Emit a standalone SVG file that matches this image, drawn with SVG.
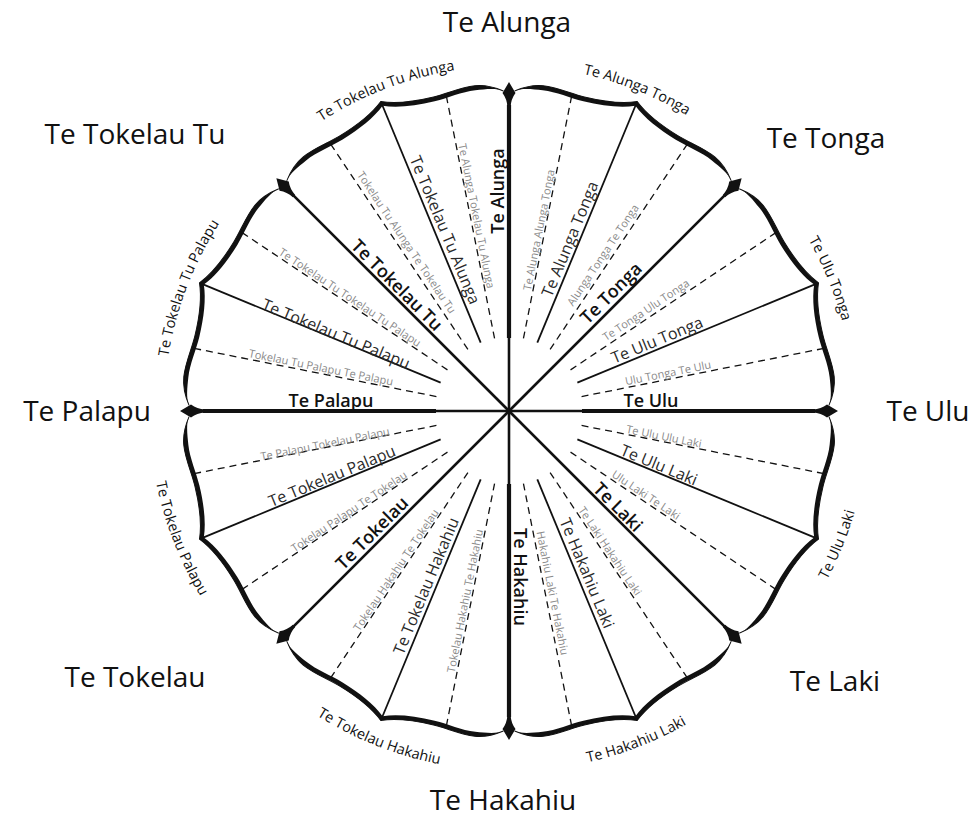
<svg xmlns="http://www.w3.org/2000/svg" xmlns:xlink="http://www.w3.org/1999/xlink" width="974" height="821" viewBox="0 0 974 821">
<style>
text{font-family:"Open Sans","Liberation Sans",sans-serif;text-anchor:middle;fill:#111}
.big{font-size:28px}
.main{font-size:18px;font-weight:600}
.sec{font-size:16px;fill:#2a2a2a}
.ter{font-size:11px;fill:#8a8a8a}
.arc{font-size:14.5px}
.sol{stroke:#111;stroke-width:1.8;fill:none}
.dash{stroke:#111;stroke-width:1.3;stroke-dasharray:7 5;fill:none}
.thin{stroke:#111;stroke-width:2.6;fill:none}
.thick{stroke:#111;stroke-width:4.2;fill:none}
.fill{fill:#111;stroke:none}
.edge{stroke:#111;stroke-width:1;fill:none}
</style>
<defs>
<path id="bh" class="fill" d="M0,-335 C12.8,-327.2 30.7,-322.1 50.5,-319 C64.3,-316.8 79.45,-317.5 92.87,-313.53 C102.46,-310.69 111.68,-303.44 117.28,-297.73 C111.68,-303.44 101.16,-306.3 91.57,-309.14 C78.34,-313.06 63.40,-312.36 49.79,-314.53 C30.27,-317.59 12.62,-322.62 0,-330.31 Z"/>
<path id="be" class="edge" d="M0,-335 C12.8,-327.2 30.7,-322.1 50.5,-319 C64.3,-316.8 79.45,-317.5 92.87,-313.53 C102.46,-310.69 111.68,-303.44 117.28,-297.73"/>
<g id="brace">
<use xlink:href="#bh"/><use xlink:href="#be"/>
<use xlink:href="#bh" transform="scale(-1,1)"/><use xlink:href="#be" transform="scale(-1,1)"/>
</g>
<g id="sec">
<use xlink:href="#brace" transform="rotate(22.5)"/>
<line class="sol" x1="0" y1="-74" x2="0" y2="-335" transform="rotate(22.5)"/>
<line class="dash" x1="0" y1="-74" x2="0" y2="-323" transform="rotate(11.25)"/>
<line class="dash" x1="0" y1="-74" x2="0" y2="-323" transform="rotate(33.75)"/>
</g>
<path id="dia" class="fill" d="M0,-329 L6.5,-318 Q2,-312 1.6,-304 L-1.6,-304 Q-2,-312 -6.5,-318 Z"/>
<g id="card">
<line class="thin" x1="0" y1="0" x2="0" y2="-75"/>
<line class="thick" x1="0" y1="-73" x2="0" y2="-306"/>
<use xlink:href="#dia"/>
</g>
<g id="diag">
<line class="thin" x1="0" y1="0" x2="0" y2="-306"/>
<use xlink:href="#dia"/>
</g>
<path id="arcU" d="M-172.5,-298.8 A345,345 0 0 1 172.5,-298.8"/>
<path id="arcL" d="M-180,311.8 A360,360 0 0 0 180,311.8"/>
</defs>

<g id="sector-alunga-tonga">
<use xlink:href="#sec" transform="translate(509 411) rotate(0)"/>
<text class="arc" transform="translate(509 411) rotate(21.7)"><textPath xlink:href="#arcU" startOffset="50%">Te Alunga Tonga</textPath></text>
<text class="sec" dy=".35em" transform="translate(570 239) rotate(-67.5)">Te Alunga Tonga</text>
<text class="ter" dy=".35em" transform="translate(539 230) rotate(-78.75)">Te Alunga Alunga Tonga</text>
<text class="ter" dy=".35em" transform="translate(603 255) rotate(-56.25)">Alunga Tonga Te Tonga</text>
</g>

<g id="sector-ulu-tonga">
<use xlink:href="#sec" transform="translate(509 411) rotate(45)"/>
<text class="arc" transform="translate(509 411) rotate(67.6)"><textPath xlink:href="#arcU" startOffset="50%">Te Ulu Tonga</textPath></text>
<text class="sec" dy=".35em" transform="translate(657 340) rotate(-22.5)">Te Ulu Tonga</text>
<text class="ter" dy=".35em" transform="translate(646 310) rotate(-33.75)">Te Tonga Ulu Tonga</text>
<text class="ter" dy=".35em" transform="translate(668 373) rotate(-11.25)">Ulu Tonga Te Ulu</text>
</g>

<g id="sector-ulu-laki">
<use xlink:href="#sec" transform="translate(509 411) rotate(90)"/>
<text class="arc" transform="translate(509 411) rotate(-67.9)"><textPath xlink:href="#arcL" startOffset="50%">Te Ulu Laki</textPath></text>
<text class="sec" dy=".35em" transform="translate(659 465) rotate(22.5)">Te Ulu Laki</text>
<text class="ter" dy=".35em" transform="translate(664 436.5) rotate(11.25)">Te Ulu Ulu Laki</text>
<text class="ter" dy=".35em" transform="translate(646 495) rotate(33.75)">Ulu Laki Te Laki</text>
</g>

<g id="sector-hakahiu-laki">
<use xlink:href="#sec" transform="translate(509 411) rotate(135)"/>
<text class="arc" transform="translate(509 411) rotate(-21.1)"><textPath xlink:href="#arcL" startOffset="50%">Te Hakahiu Laki</textPath></text>
<text class="sec" dy=".35em" transform="translate(587 573) rotate(67.5)">Te Hakahiu Laki</text>
<text class="ter" dy=".35em" transform="translate(610 551) rotate(56.25)">Te Laki Hakahiu Laki</text>
<text class="ter" dy=".35em" transform="translate(552.5 593) rotate(78.75)">Hakahiu Laki Te Hakahiu</text>
</g>

<g id="sector-tokelau-hakahiu">
<use xlink:href="#sec" transform="translate(509 411) rotate(180)"/>
<text class="arc" transform="translate(509 411) rotate(21.7)"><textPath xlink:href="#arcL" startOffset="50%">Te Tokelau Hakahiu</textPath></text>
<text class="sec" dy=".35em" transform="translate(426 586) rotate(-67.5)">Te Tokelau Hakahiu</text>
<text class="ter" dy=".35em" transform="translate(465 601) rotate(-78.75)">Tokelau Hakahiu Te Hakahiu</text>
<text class="ter" dy=".35em" transform="translate(396 570) rotate(-56.25)">Tokelau Hakahiu Te Tokelau</text>
</g>

<g id="sector-tokelau-palapu">
<use xlink:href="#sec" transform="translate(509 411) rotate(225)"/>
<text class="arc" transform="translate(509 411) rotate(68.8)"><textPath xlink:href="#arcL" startOffset="50%">Te Tokelau Palapu</textPath></text>
<text class="sec" dy=".35em" transform="translate(332 476) rotate(-22.5)">Te Tokelau Palapu</text>
<text class="ter" dy=".35em" transform="translate(349 511.5) rotate(-33.75)">Tokelau Palapu Te Tokelau</text>
<text class="ter" dy=".35em" transform="translate(325 444) rotate(-11.25)">Te Palapu Tokelau Palapu</text>
</g>

<g id="sector-tokelau-tu-palapu">
<use xlink:href="#sec" transform="translate(509 411) rotate(270)"/>
<text class="arc" transform="translate(509 411) rotate(-69)"><textPath xlink:href="#arcU" startOffset="50%">Te Tokelau Tu Palapu</textPath></text>
<text class="sec" dy=".35em" transform="translate(336 334) rotate(22.5)">Te Tokelau Tu Palapu</text>
<text class="ter" dy=".35em" transform="translate(321 367.5) rotate(11.25)">Tokelau Tu Palapu Te Palapu</text>
<text class="ter" dy=".35em" transform="translate(350 297.5) rotate(33.75)">Te Tokelau Tu Tokelau Tu Palapu</text>
</g>

<g id="sector-tokelau-tu-alunga">
<use xlink:href="#sec" transform="translate(509 411) rotate(315)"/>
<text class="arc" transform="translate(509 411) rotate(-21)"><textPath xlink:href="#arcU" startOffset="50%">Te Tokelau Tu Alunga</textPath></text>
<text class="sec" dy=".35em" transform="translate(445 230) rotate(67.5)">Te Tokelau Tu Alunga</text>
<text class="ter" dy=".35em" transform="translate(406.5 242.5) rotate(56.25)">Tokelau Tu Alunga Te Tokelau Tu</text>
<text class="ter" dy=".35em" transform="translate(476.5 216) rotate(78.75)">Te Alunga Tokelau Tu Alunga</text>
</g>

<g id="rays" transform="translate(509 411)">
<use xlink:href="#card" transform="rotate(0)"/>
<use xlink:href="#diag" transform="rotate(45)"/>
<use xlink:href="#card" transform="rotate(90)"/>
<use xlink:href="#diag" transform="rotate(135)"/>
<use xlink:href="#card" transform="rotate(180)"/>
<use xlink:href="#diag" transform="rotate(225)"/>
<use xlink:href="#card" transform="rotate(270)"/>
<use xlink:href="#diag" transform="rotate(315)"/>
</g>

<g id="ray-labels">
<text class="main" dy=".35em" transform="translate(498 191) rotate(-90)">Te Alunga</text>
<text class="main" dy=".35em" transform="translate(611 293) rotate(-45)">Te Tonga</text>
<text class="main" dy=".35em" transform="translate(651 401)">Te Ulu</text>
<text class="main" dy=".35em" transform="translate(618 507) rotate(45)">Te Laki</text>
<text class="main" dy=".35em" transform="translate(520 577) rotate(90)">Te Hakahiu</text>
<text class="main" dy=".35em" transform="translate(372 533) rotate(-45)">Te Tokelau</text>
<text class="main" dy=".35em" transform="translate(331 401)">Te Palapu</text>
<text class="main" dy=".35em" transform="translate(397 285) rotate(45)">Te Tokelau Tu</text>
</g>

<g id="outer-labels">
<text class="big" x="507" y="32">Te Alunga</text>
<text class="big" x="826" y="148">Te Tonga</text>
<text class="big" x="928" y="421">Te Ulu</text>
<text class="big" x="835" y="691">Te Laki</text>
<text class="big" x="503" y="810">Te Hakahiu</text>
<text class="big" x="135" y="687">Te Tokelau</text>
<text class="big" x="87" y="421">Te Palapu</text>
<text class="big" x="135" y="144">Te Tokelau Tu</text>
</g>
</svg>
